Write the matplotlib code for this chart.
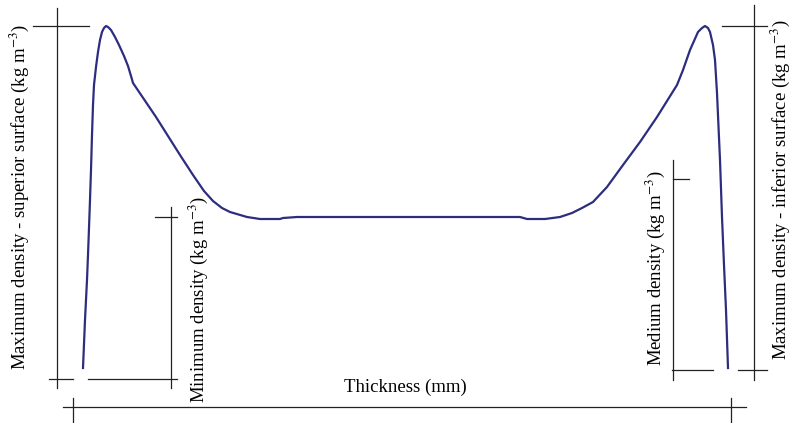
import numpy as np
import matplotlib
matplotlib.use("Agg")
import matplotlib.pyplot as plt

plt.rcParams['font.family'] = ['Liberation Serif', 'DejaVu Serif']
plt.rcParams['mathtext.fontset'] = 'stix'

# density profile across the board thickness (x = position, y = density, pixel-like units)
thickness = [83, 85, 87, 88, 89, 90, 91, 92, 93, 94, 96, 98, 100, 102, 104, 106, 108, 111,
             115, 119, 124, 128, 131, 133, 156, 180, 193, 204, 213, 222, 230, 247, 260, 280, 283, 297,
             400, 520, 527, 545, 560, 572, 582, 593, 607, 623, 640, 657, 677, 683, 690, 698, 702,
             705, 708, 710, 713, 715, 717, 720, 722, 724, 726, 728]
density = [55, 103, 143, 168, 195, 223, 253, 288, 318, 338, 356, 371, 383, 391, 395, 397, 396, 393,
           386, 378, 367, 357, 347, 340, 306, 268, 248, 232, 222, 215, 211, 206, 204, 204, 205, 206,
           206, 206, 204, 204, 206, 210, 215, 221, 236, 258, 281, 306, 338, 353, 373, 391, 395,
           397, 395, 391, 378, 363, 330, 263, 206, 158, 113, 55]

fig = plt.figure(figsize=(7.92, 4.23), dpi=100)
ax = fig.add_axes([0, 0, 1, 1])
ax.set_xlim(0, 792)
ax.set_ylim(0, 423)
ax.axis('off')

ax.plot(thickness, density, color='#2d2d80', lw=1.6, solid_joinstyle='round')

k = dict(color='#222222', lw=0.9)
# left max density bar
ax.plot([57, 57], [35, 415], **k)
ax.plot([33, 89], [397, 397], **k)
ax.plot([49, 73], [44, 44], **k)
# minimum density bar
ax.plot([88, 177], [44, 44], **k)
ax.plot([171, 171], [35, 216], **k)
ax.plot([155, 177], [206, 206], **k)
# thickness bar
ax.plot([63, 746], [16, 16], **k)
ax.plot([73, 73], [1, 25], **k)
ax.plot([731, 731], [1, 25], **k)
# medium density bar
ax.plot([673, 673], [43, 263], **k)
ax.plot([673, 689], [244, 244], **k)
ax.plot([672, 713], [53, 53], **k)
# right max density bar
ax.plot([754, 754], [43, 418], **k)
ax.plot([722, 767], [397, 397], **k)
ax.plot([738, 767], [53, 53], **k)

fs = 13.5
ax.text(19, 226, 'Maximum density - superior surface (kg m$^{-3}$)', rotation=90,
        ha='center', va='center', fontsize=fs)
ax.text(198, 123, 'Minimum density (kg m$^{-3}$)', rotation=90,
        ha='center', va='center', fontsize=fs)
ax.text(405, 36, 'Thickness (mm)', ha='center', va='center', fontsize=fs)
ax.text(655, 155, 'Medium density (kg m$^{-3}$)', rotation=90,
        ha='center', va='center', fontsize=fs)
ax.text(780, 233, 'Maximum density - inferior surface (kg m$^{-3}$)', rotation=90,
        ha='center', va='center', fontsize=fs)

fig.savefig('out.png', dpi=100)
